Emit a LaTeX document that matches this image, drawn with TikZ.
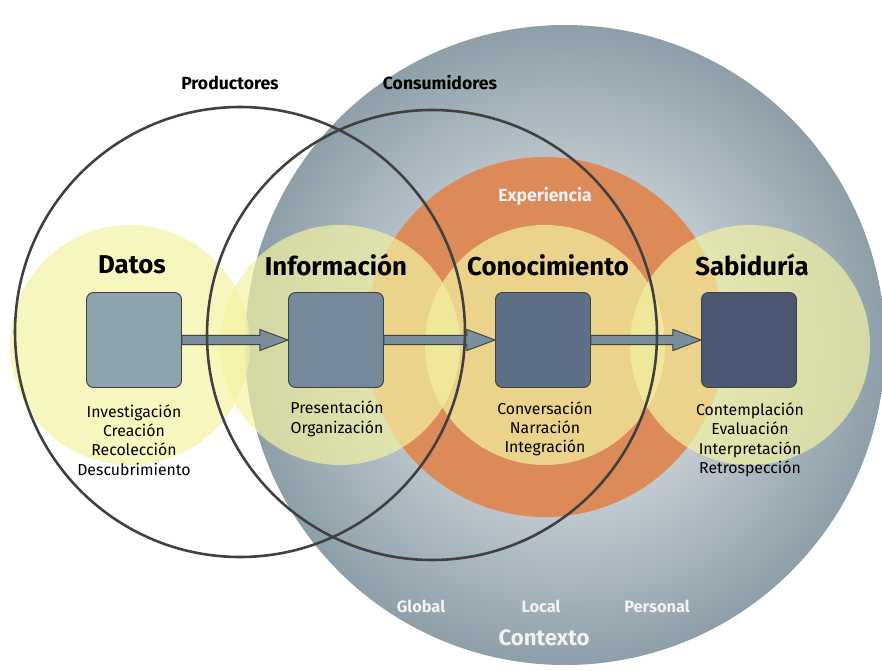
\documentclass[tikz,border=0pt]{standalone}
\usepackage{fontspec}
\setmainfont{Fira Sans}
\usetikzlibrary{arrows.meta}
\definecolor{gout}{HTML}{8E9FA9}
\definecolor{gin}{HTML}{F4F6F7}
\definecolor{org}{HTML}{DC8A58}
\definecolor{yel}{HTML}{F2F2A2}
\definecolor{c1}{HTML}{8DA3AD}
\definecolor{c2}{HTML}{75899A}
\definecolor{c3}{HTML}{5F6F86}
\definecolor{c4}{HTML}{4B5672}
\definecolor{ar}{HTML}{7A8E9C}
\begin{document}
\begin{tikzpicture}[x=0.03cm,y=-0.03cm,
  yc/.style={fill=yel,fill opacity=0.7,draw=none},
  ring/.style={draw=black!75,line width=2.2pt},
  box/.style={draw=black!75,line width=0.8pt,rounded corners=6pt,minimum width=2.85cm,minimum height=2.85cm},
  big/.style={font=\bfseries\fontsize{22}{26}\selectfont},
  sub/.style={font=\fontsize{13.5}{16.5}\selectfont,align=center},
  wl/.style={font=\bfseries\fontsize{14}{17}\selectfont,text=white!90!gray},
  arr/.style={draw=black!75,fill=ar,line width=0.8pt}]
\useasboundingbox (0,0) rectangle (882,671);
\shade[inner color=gin,outer color=gout] (565,345) circle (320);
\fill[org] (545,337) circle (180);
\foreach \x in {130,340,545,750} \fill[yc] (\x,345) circle (120);
\node[box,fill=c1] (b1) at (134,340) {};
\node[box,fill=c2] (b2) at (336,340) {};
\node[box,fill=c3] (b3) at (543,340) {};
\node[box,fill=c4] (b4) at (749,340) {};
\foreach \a/\b in {b1/b2,b2/b3,b3/b4}
  \draw[arr] ([yshift=-4pt]\a.east) -- ([yshift=-4pt,xshift=-24pt]\b.west) -- ([yshift=-9pt,xshift=-24pt]\b.west) -- (\b.west) -- ([yshift=9pt,xshift=-24pt]\b.west) -- ([yshift=4pt,xshift=-24pt]\b.west) -- ([yshift=4pt]\a.east) -- cycle;
\draw[ring] (240,332) circle (225);
\draw[ring] (432,335) circle (225);
\node[big] (t1) at (132,265) {Datos};
\node[big] (t2) at (336,265) {Información};
\node[big] (t3) at (548,265) {Conocimiento};
\node[big] (t4) at (752,265) {Sabiduría};
\node[sub] (s1) at (134,440) {Investigación\\Creación\\Recolección\\Descubrimiento};
\node[sub] (s2) at (337,419) {Presentación\\Organización};
\node[sub] (s3) at (545,429) {Conversación\\Narración\\Integración};
\node[sub] (s4) at (750,440) {Contemplación\\Evaluación\\Interpretación\\Retrospección};
\node[font=\bfseries\fontsize{15}{18}\selectfont] (p) at (230,83) {Productores};
\node[font=\bfseries\fontsize{15}{18}\selectfont] (c) at (440,83) {Consumidores};
\node[wl,font=\bfseries\fontsize{15}{18}\selectfont] (e) at (545,196) {Experiencia};
\node[wl] (g) at (421,606) {Global};
\node[wl] (l) at (541,606) {Local};
\node[wl] (pe) at (657,606) {Personal};
\node[wl,font=\bfseries\fontsize{19}{22}\selectfont] (ct) at (544,638) {Contexto};
\end{tikzpicture}
\end{document}
